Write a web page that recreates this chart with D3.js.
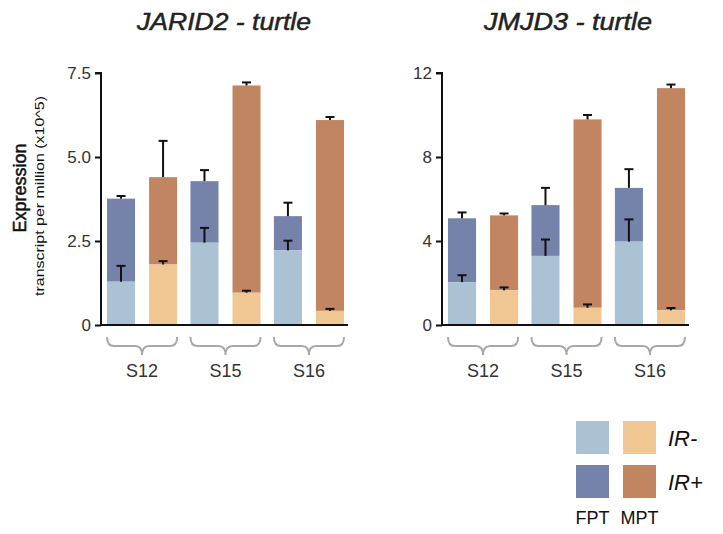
<!DOCTYPE html>
<html>
<head>
<meta charset="utf-8">
<script src="https://cdn.jsdelivr.net/npm/d3@7"></script>
<style>
  body { margin: 0; background: #fff; }
  text { font-family: "Liberation Sans", Arial, Helvetica, sans-serif; }
</style>
</head>
<body>
<div id="chart"></div>
<script>
// stages and sexes
const stages = ["S12", "S15", "S16"];
const sexes = ["FPT", "MPT"];

// JARID2: IR- (lower) and total (IR- + IR+) per bar, plus error tops
const jaridLow = [1.29, 1.80, 2.45, 0.96, 2.22, 0.42];
const jaridLowErr = [1.76, 1.90, 2.89, 1.02, 2.51, 0.48];
const jaridTotal = [3.76, 4.40, 4.28, 7.13, 3.24, 6.10];
const jaridTotalErr = [3.84, 5.48, 4.61, 7.22, 3.64, 6.19];
const jaridTicks = [0, 2.5, 5.0, 7.5];
const jaridTickLabels = ["0", "2.5", "5.0", "7.5"];

// JMJD3
const jmjdLow = [2.04, 1.65, 3.29, 0.82, 3.97, 0.70];
const jmjdLowErr = [2.37, 1.79, 4.07, 0.98, 5.03, 0.81];
const jmjdTotal = [5.08, 5.22, 5.71, 9.79, 6.53, 11.28];
const jmjdTotalErr = [5.36, 5.31, 6.53, 10.00, 7.42, 11.45];
const jmjdTicks = [0, 4, 8, 12];
const jmjdTickLabels = ["0", "4", "8", "12"];

const colors = {
  FPT: { low: "#aac2d4", high: "#7582a9" },
  MPT: { low: "#f0c792", high: "#c18661" }
};

const width = 723, height = 534;
const svg = d3.select("#chart").append("svg")
  .attr("width", width)
  .attr("height", height);

const yTop = 73, yBottom = 325;

function panel(x0, title, titleX, titleLen, yMax, ticks, tickLabels, low, lowErr, total, totalErr) {
  const g = svg.append("g");
  const x1 = x0 + 249;

  const xGroup = d3.scaleBand().domain(stages).range([x0, x1])
    .paddingInner(0.16).paddingOuter(0.072);
  const xSex = d3.scaleBand().domain(sexes).range([0, xGroup.bandwidth()])
    .paddingInner(0.333);
  const y = d3.scaleLinear().domain([0, yMax]).range([yBottom, yTop]);

  const rows = [];
  stages.forEach((s, i) => {
    sexes.forEach((sx, j) => {
      const k = i * 2 + j;
      rows.push({ stage: s, sex: sx, low: low[k], lowErr: lowErr[k], total: total[k], totalErr: totalErr[k] });
    });
  });

  const bx = d => xGroup(d.stage) + xSex(d.sex);
  const bw = xSex.bandwidth();

  // upper segment (IR+)
  g.selectAll("rect.high").data(rows).enter().append("rect")
    .attr("class", "high")
    .attr("x", bx).attr("width", bw)
    .attr("y", d => y(d.total))
    .attr("height", d => y(d.low) - y(d.total))
    .attr("fill", d => colors[d.sex].high);

  // lower segment (IR-)
  g.selectAll("rect.low").data(rows).enter().append("rect")
    .attr("class", "low")
    .attr("x", bx).attr("width", bw)
    .attr("y", d => y(d.low))
    .attr("height", d => y(0) - y(d.low))
    .attr("fill", d => colors[d.sex].low);

  // error bars
  const errs = [];
  rows.forEach(d => {
    errs.push({ cx: bx(d) + bw / 2, from: d.low, to: d.lowErr });
    errs.push({ cx: bx(d) + bw / 2, from: d.total, to: d.totalErr });
  });
  const eg = g.selectAll("g.err").data(errs).enter().append("g").attr("class", "err");
  eg.append("line")
    .attr("x1", d => d.cx).attr("x2", d => d.cx)
    .attr("y1", d => y(d.from)).attr("y2", d => y(d.to))
    .attr("stroke", "#111").attr("stroke-width", 2);
  eg.append("line")
    .attr("x1", d => d.cx - 4.5).attr("x2", d => d.cx + 4.5)
    .attr("y1", d => y(d.to)).attr("y2", d => y(d.to))
    .attr("stroke", "#111").attr("stroke-width", 2);

  // y axis
  const yAxis = d3.axisLeft(y).tickValues(ticks).tickSize(6).tickPadding(4)
    .tickFormat((d, i) => tickLabels[i]);
  const ya = g.append("g").attr("transform", `translate(${x0},0)`).call(yAxis);
  ya.select(".domain").attr("stroke", "#111").attr("stroke-width", 2)
    .attr("d", `M-6,${yTop}H0V${yBottom}`);
  ya.selectAll(".tick line").attr("stroke", "#111").attr("stroke-width", 2);
  ya.selectAll(".tick text").attr("fill", "#333").style("font-size", "17px")
    .style("font-family", "'Liberation Sans', Arial, sans-serif");

  // x axis line
  g.append("line")
    .attr("x1", x0).attr("x2", x1 - 2)
    .attr("y1", yBottom).attr("y2", yBottom)
    .attr("stroke", "#111").attr("stroke-width", 2);

  // braces
  const bTop = 337, bH = 18, r = 7;
  stages.forEach(s => {
    const a = xGroup(s), b = xGroup(s) + xGroup.bandwidth(), m = (a + b) / 2;
    const mid = bTop + bH / 2;
    const p = d3.path();
    p.moveTo(a, bTop);
    p.quadraticCurveTo(a, mid, a + r, mid);
    p.lineTo(m - r, mid);
    p.quadraticCurveTo(m, mid, m, bTop + bH);
    p.quadraticCurveTo(m, mid, m + r, mid);
    p.lineTo(b - r, mid);
    p.quadraticCurveTo(b, mid, b, bTop);
    g.append("path").attr("d", p.toString())
      .attr("fill", "none").attr("stroke", "#a8a8a8").attr("stroke-width", 2);
    g.append("text").attr("x", m).attr("y", 377)
      .attr("text-anchor", "middle").attr("fill", "#333")
      .style("font-size", "18px").text(s);
  });

  // title
  g.append("text").attr("x", titleX).attr("y", 30)
    .attr("fill", "#222").attr("stroke", "#222").attr("stroke-width", 0.5)
    .attr("textLength", titleLen).attr("lengthAdjust", "spacingAndGlyphs")
    .style("font-size", "24px").style("font-style", "italic")
    .text(title);
}

panel(101, "JARID2 - turtle", 137, 174, 7.5, jaridTicks, jaridTickLabels, jaridLow, jaridLowErr, jaridTotal, jaridTotalErr);
panel(442, "JMJD3 - turtle", 484, 168, 12, jmjdTicks, jmjdTickLabels, jmjdLow, jmjdLowErr, jmjdTotal, jmjdTotalErr);

// y labels
svg.append("text")
  .attr("transform", "translate(26,188) rotate(-90)")
  .attr("text-anchor", "middle").attr("fill", "#111")
  .attr("stroke", "#111").attr("stroke-width", 0.5)
  .style("font-size", "18px")
  .text("Expression");
svg.append("text")
  .attr("transform", "translate(44,196) rotate(-90)")
  .attr("text-anchor", "middle").attr("fill", "#111")
  .attr("textLength", 200).attr("lengthAdjust", "spacingAndGlyphs")
  .style("font-size", "12.5px")
  .text("transcript per million (x10^5)");

// legend
const legendRows = ["IR-", "IR+"];
const lx = d3.scaleBand().domain(sexes).range([576, 656]).paddingInner(0.298);
const ly = d3.scaleBand().domain(legendRows).range([421, 498]).paddingInner(0.25);
const lg = svg.append("g");
legendRows.forEach(rw => {
  sexes.forEach(sx => {
    lg.append("rect")
      .attr("x", lx(sx)).attr("y", ly(rw))
      .attr("width", lx.bandwidth()).attr("height", ly.bandwidth())
      .attr("fill", rw === "IR-" ? colors[sx].low : colors[sx].high);
  });
  lg.append("text").attr("x", 668).attr("y", ly(rw) + ly.bandwidth() / 2 + 8)
    .attr("fill", "#111").style("font-size", "22px").style("font-style", "italic")
    .text(rw);
});
sexes.forEach(sx => {
  lg.append("text").attr("x", lx(sx) + lx.bandwidth() / 2).attr("y", 524)
    .attr("text-anchor", "middle").attr("fill", "#111")
    .style("font-size", "18px").text(sx);
});
</script>
</body>
</html>
